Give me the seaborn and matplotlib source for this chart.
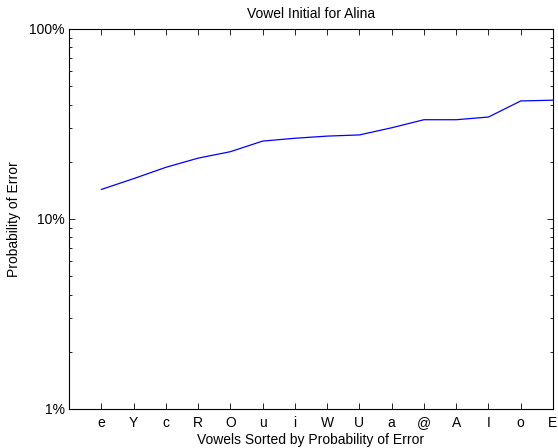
import pandas as pd
import seaborn as sns
import matplotlib.pyplot as plt
from matplotlib.ticker import FixedLocator, LogLocator, NullFormatter

# Vowels in order of increasing error probability
vowels = ["e", "Y", "c", "R", "O", "u", "i", "W", "U", "a", "@", "A", "I", "o", "E"]
error_pct = [14.3, 16.3, 18.7, 20.9, 22.6, 25.7, 26.6, 27.3, 27.7, 30.2,
             33.3, 33.3, 34.4, 41.8, 42.2]


def main():
    df = pd.DataFrame({"pos": range(1, len(vowels) + 1),
                       "err": [v / 100 for v in error_pct]})

    sns.set_style("ticks")
    plt.rcParams["font.family"] = ["Liberation Sans", "DejaVu Sans"]
    plt.rcParams["text.color"] = "black"
    plt.rcParams["axes.labelcolor"] = "black"

    fig = plt.figure(figsize=(5.58, 4.48), dpi=100)
    ax = fig.add_axes([0.1237, 0.0871, 0.8673, 0.8482])
    sns.lineplot(data=df, x="pos", y="err", color="blue", linewidth=0.9, ax=ax)

    ax.set_yscale("log")
    ax.set_ylim(0.01, 1)
    ax.set_xlim(0, len(vowels))
    ax.xaxis.set_major_locator(FixedLocator(df["pos"]))
    ax.set_xticklabels(vowels)
    ax.set_yticks([0.01, 0.1, 1])
    ax.set_yticklabels(["1%", "10%", "100%"])
    ax.yaxis.set_minor_locator(LogLocator(base=10, subs=range(2, 10)))
    ax.yaxis.set_minor_formatter(NullFormatter())

    for side in ax.spines.values():
        side.set_linewidth(0.8)
        side.set_color("black")
    ax.tick_params(which="both", direction="in", top=True, right=True,
                   labelsize=10, width=0.6, colors="black")
    ax.tick_params(which="major", length=4)
    ax.tick_params(which="minor", length=2.5)
    ax.tick_params(axis="x", pad=5)
    ax.tick_params(axis="y", pad=3)

    ax.set_xlabel("Vowels Sorted by Probability of Error", fontsize=10)
    ax.set_ylabel("Probability of Error", fontsize=10)
    ax.xaxis.set_label_coords(0.5, -0.063)
    ax.yaxis.set_label_coords(-0.099, 0.5)
    ax.set_title("Vowel Initial for Alina", fontsize=10, pad=8)

    fig.savefig("out.png", dpi=100)


if __name__ == "__main__":
    main()
